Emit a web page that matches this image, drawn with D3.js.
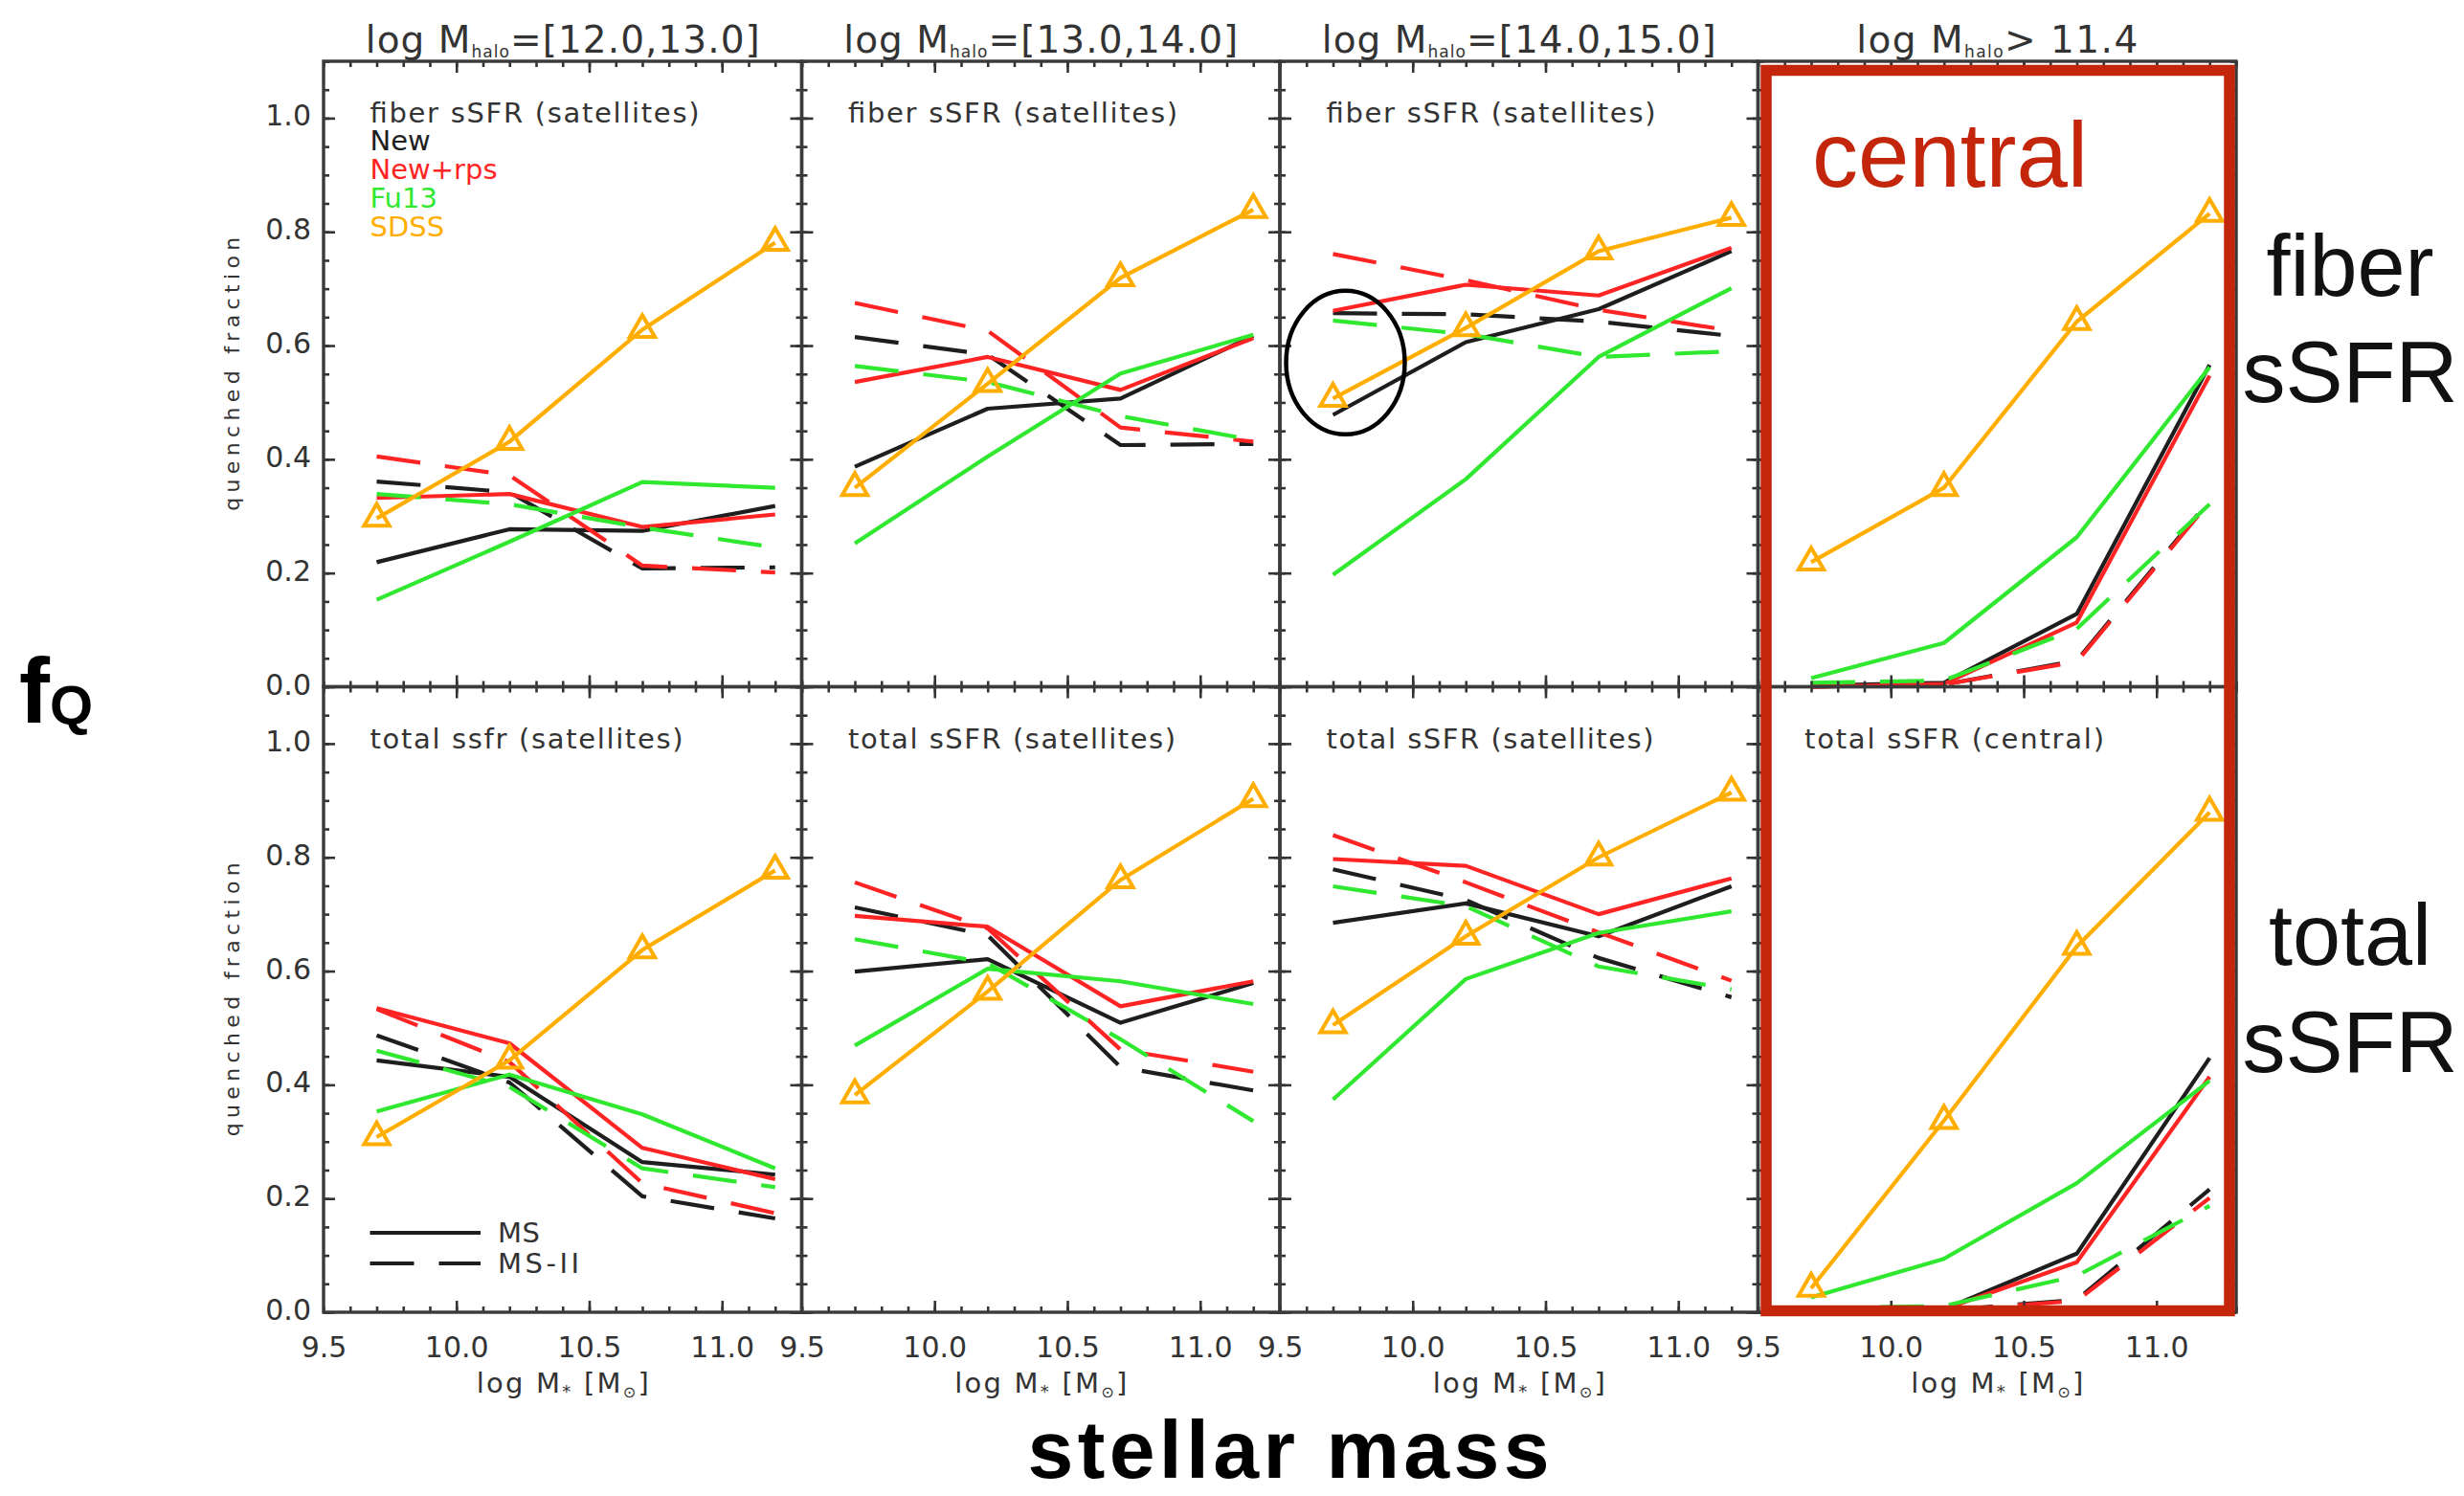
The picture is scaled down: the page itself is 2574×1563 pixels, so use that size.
<!DOCTYPE html>
<html>
<head>
<meta charset="utf-8">
<script src="https://cdn.jsdelivr.net/npm/d3@7"></script>
<style>
  html, body { margin: 0; padding: 0; background: #ffffff; }
  svg { display: block; }
</style>
</head>
<body>
<svg id="chart" width="2574" height="1563"></svg>
<script>
// ---- data -------------------------------------------------------------
// stellar-mass bin centres (log M*)
const massBins = [9.7, 10.2, 10.7, 11.2];
// labelled x ticks, y ticks
const xMajorTicks = [9.5, 10.0, 10.5, 11.0];
const yMajorTicks = [0.0, 0.2, 0.4, 0.6, 0.8, 1.0];

// column headers: halo-mass selection
const haloLabels = ["=[12.0,13.0]", "=[13.0,14.0]", "=[14.0,15.0]", "> 11.4"];
// in-panel notes, top row then bottom row
const panelNotes = [
  "fiber sSFR (satellites)", "fiber sSFR (satellites)", "fiber sSFR (satellites)", "",
  "total ssfr (satellites)", "total sSFR (satellites)", "total sSFR (satellites)", "total sSFR (central)"
];

// quenched fractions; one row per panel (top row first), one value per mass bin
const newMS = [
  [0.219, 0.277, 0.274, 0.318], [0.387, 0.489, 0.507, 0.617], [0.478, 0.606, 0.664, 0.766], [0.002, 0.007, 0.128, 0.566],
  [0.443, 0.414, 0.264, 0.242], [0.599, 0.621, 0.509, 0.579], [0.685, 0.719, 0.661, 0.749], [0.000, 0.005, 0.103, 0.447]
];
const newMSII = [
  [0.361, 0.342, 0.208, 0.210], [0.615, 0.584, 0.425, 0.427], [0.657, 0.655, 0.642, 0.617], [0.000, 0.004, 0.046, 0.328],
  [0.487, 0.404, 0.204, 0.165], [0.712, 0.663, 0.431, 0.390], [0.779, 0.725, 0.623, 0.554], [0.000, 0.003, 0.022, 0.216]
];
const rpsMS = [
  [0.332, 0.339, 0.281, 0.303], [0.536, 0.580, 0.522, 0.613], [0.661, 0.707, 0.688, 0.772], [0.000, 0.005, 0.113, 0.547],
  [0.535, 0.473, 0.289, 0.234], [0.697, 0.678, 0.538, 0.582], [0.797, 0.785, 0.700, 0.763], [0.000, 0.005, 0.088, 0.414]
];
const rpsMSII = [
  [0.405, 0.372, 0.213, 0.201], [0.675, 0.626, 0.456, 0.431], [0.761, 0.715, 0.663, 0.626], [0.000, 0.004, 0.044, 0.325],
  [0.533, 0.440, 0.227, 0.174], [0.756, 0.675, 0.462, 0.423], [0.839, 0.756, 0.668, 0.583], [0.000, 0.003, 0.020, 0.201]
];
const fu13MS = [
  [0.153, 0.255, 0.360, 0.350], [0.252, 0.405, 0.551, 0.619], [0.197, 0.365, 0.580, 0.701], [0.015, 0.077, 0.263, 0.562],
  [0.353, 0.418, 0.348, 0.253], [0.469, 0.604, 0.582, 0.542], [0.374, 0.586, 0.667, 0.705], [0.026, 0.094, 0.227, 0.407]
];
const fu13MSII = [
  [0.339, 0.321, 0.280, 0.245], [0.564, 0.536, 0.476, 0.434], [0.644, 0.620, 0.580, 0.590], [0.007, 0.011, 0.102, 0.321],
  [0.460, 0.396, 0.253, 0.220], [0.656, 0.614, 0.480, 0.336], [0.749, 0.714, 0.608, 0.568], [0.007, 0.011, 0.064, 0.187]
];
const sdss = [
  [0.296, 0.431, 0.628, 0.781], [0.350, 0.533, 0.719, 0.839], [0.507, 0.631, 0.766, 0.825], [0.219, 0.350, 0.642, 0.832],
  [0.308, 0.443, 0.637, 0.777], [0.382, 0.564, 0.760, 0.903], [0.505, 0.661, 0.800, 0.914], [0.042, 0.337, 0.643, 0.879]
];

// legend entries (model name / colour)
const modelNames = ["New", "New+rps", "Fu13", "SDSS"];
const modelColors = ["#1e1e1e", "#ff2424", "#2fe82f", "#ffae00"];
const simNames = ["MS", "MS-II"];

// ---- layout -----------------------------------------------------------
const svg = d3.select("#chart");
const IDL_FONT = "DejaVu Sans, sans-serif";
const INK = "#333333";
const colX0 = 338, colW = 499.5;
const rowY0 = [64, 717.5], rowH = 653.5;
const DASH = "46,26";

const xDomain = [9.5, 11.3];
const yDomain = [0, 1.1];

const series = [
  { vals: newMS,    color: modelColors[0], dash: null },
  { vals: newMSII,  color: modelColors[0], dash: DASH },
  { vals: rpsMS,    color: modelColors[1], dash: null },
  { vals: rpsMSII,  color: modelColors[1], dash: DASH },
  { vals: fu13MS,   color: modelColors[2], dash: null },
  { vals: fu13MSII, color: modelColors[2], dash: DASH }
];

const triangle = d3.symbol().type(d3.symbolTriangle).size(300);

for (let p = 0; p < 8; p++) {
  const col = p % 4, row = Math.floor(p / 4);
  const x = d3.scaleLinear().domain(xDomain).range([colX0 + col * colW, colX0 + (col + 1) * colW]);
  const y = d3.scaleLinear().domain(yDomain).range([rowY0[row] + rowH, rowY0[row]]);
  const g = svg.append("g").attr("class", "panel");

  const line = d3.line().x((d, i) => x(massBins[i])).y(d => y(d));

  // model curves
  series.forEach(s => {
    g.append("path")
      .attr("d", line(s.vals[p]))
      .attr("fill", "none")
      .attr("stroke", s.color)
      .attr("stroke-width", 4.2)
      .attr("stroke-linejoin", "round")
      .attr("stroke-dasharray", s.dash);
  });

  // SDSS observations: line with open triangles
  g.append("path")
    .attr("d", line(sdss[p]))
    .attr("fill", "none")
    .attr("stroke", modelColors[3])
    .attr("stroke-width", 4.2);
  g.selectAll(".tri")
    .data(sdss[p])
    .join("path")
    .attr("transform", (d, i) => `translate(${x(massBins[i])},${y(d)})`)
    .attr("d", triangle)
    .attr("fill", "none")
    .attr("stroke", modelColors[3])
    .attr("stroke-width", 4);

  // axes: inward ticks on all four sides
  const minorX = x.ticks(18), minorY = y.ticks(22);
  const majX = [10.0, 10.5, 11.0];
  const styleAxis = sel => {
    sel.select(".domain").remove();
    sel.selectAll("line").attr("stroke", INK).attr("stroke-width", 2.6);
    sel.attr("font-family", IDL_FONT).attr("font-size", 30).attr("color", INK);
  };
  const bottomY = rowY0[row] + rowH, topY = rowY0[row];
  const leftX = x.range()[0], rightX = x.range()[1];

  g.append("g").attr("transform", `translate(0,${bottomY})`)
    .call(d3.axisBottom(x).tickValues(minorX).tickSize(-6).tickFormat("")).call(styleAxis);
  g.append("g").attr("transform", `translate(0,${bottomY})`)
    .call(d3.axisBottom(x).tickValues(row === 1 ? xMajorTicks : majX).tickSize(-12).tickPadding(26)
      .tickFormat(row === 1 ? d3.format(".1f") : ""))
    .call(styleAxis)
    .call(a => a.selectAll("line").filter(d => d === 9.5).remove());
  g.append("g").attr("transform", `translate(0,${topY})`)
    .call(d3.axisTop(x).tickValues(minorX).tickSize(-6).tickFormat("")).call(styleAxis);
  g.append("g").attr("transform", `translate(0,${topY})`)
    .call(d3.axisTop(x).tickValues(majX).tickSize(-12).tickFormat("")).call(styleAxis);

  g.append("g").attr("transform", `translate(${leftX},0)`)
    .call(d3.axisLeft(y).tickValues(minorY).tickSize(-6).tickFormat("")).call(styleAxis);
  g.append("g").attr("transform", `translate(${leftX},0)`)
    .call(d3.axisLeft(y).tickValues(yMajorTicks).tickSize(-12).tickPadding(13)
      .tickFormat(col === 0 ? d3.format(".1f") : ""))
    .call(styleAxis)
    .call(a => a.selectAll("text").attr("dy", "0.25em"));
  g.append("g").attr("transform", `translate(${rightX},0)`)
    .call(d3.axisRight(y).tickValues(minorY).tickSize(-6).tickFormat("")).call(styleAxis);
  g.append("g").attr("transform", `translate(${rightX},0)`)
    .call(d3.axisRight(y).tickValues(yMajorTicks).tickSize(-12).tickFormat("")).call(styleAxis);

  // frame
  g.append("rect")
    .attr("x", leftX).attr("y", topY)
    .attr("width", rightX - leftX).attr("height", bottomY - topY)
    .attr("fill", "none").attr("stroke", "#3a3a3a").attr("stroke-width", 3.4);

  // panel note
  if (panelNotes[p]) {
    const noteLen = { "fiber sSFR (satellites)": 344, "total ssfr (satellites)": 327,
                      "total sSFR (satellites)": 342, "total sSFR (central)": 313 }[panelNotes[p]];
    g.append("text")
      .attr("x", leftX + 48.5).attr("y", topY + 64)
      .attr("font-family", IDL_FONT).attr("font-size", 29).attr("fill", INK)
      .attr("textLength", noteLen).attr("lengthAdjust", "spacing")
      .text(panelNotes[p]);
  }

  // column header
  if (row === 0) {
    const t = g.append("text")
      .attr("x", (leftX + rightX) / 2).attr("y", 55)
      .attr("text-anchor", "middle")
      .attr("font-family", IDL_FONT).attr("font-size", 39).attr("fill", INK)
      .attr("textLength", col === 3 ? 294 : 412).attr("lengthAdjust", "spacing");
    t.append("tspan").text("log M");
    t.append("tspan").attr("font-size", 17).attr("dy", 5).text("halo");
    t.append("tspan").attr("dy", -5).text(haloLabels[col]);
  }

  // x-axis title
  if (row === 1) {
    const t = g.append("text")
      .attr("x", (leftX + rightX) / 2).attr("y", 1455)
      .attr("text-anchor", "middle")
      .attr("font-family", IDL_FONT).attr("font-size", 29).attr("fill", INK)
      .attr("textLength", 180).attr("lengthAdjust", "spacing");
    t.append("tspan").text("log M");
    t.append("tspan").attr("font-size", 18).attr("dy", 5).text("*");
    t.append("tspan").attr("dy", -5).text(" [M");
    t.append("tspan").attr("font-size", 16).attr("dy", 5).text("\u2299");
    t.append("tspan").attr("dy", -5).text("]");
  }

  // y-axis title
  if (col === 0) {
    g.append("text")
      .attr("transform", `translate(250,${(topY + bottomY) / 2}) rotate(-90)`)
      .attr("text-anchor", "middle")
      .attr("font-family", IDL_FONT).attr("font-size", 22).attr("fill", INK)
      .attr("textLength", 286).attr("lengthAdjust", "spacing")
      .text("quenched fraction");
  }

  // model legend (top-left panel)
  if (p === 0) {
    modelNames.forEach((name, i) => {
      g.append("text")
        .attr("x", leftX + 48.5).attr("y", topY + 93 + i * 30)
        .attr("font-family", IDL_FONT).attr("font-size", 29)
        .attr("fill", modelColors[i])
        .text(name);
    });
  }

  // simulation legend (bottom-left panel)
  if (p === 4) {
    simNames.forEach((name, i) => {
      const ly = 1288 + i * 32;
      g.append("line")
        .attr("x1", leftX + 48.5).attr("x2", leftX + 164)
        .attr("y1", ly).attr("y2", ly)
        .attr("stroke", modelColors[0]).attr("stroke-width", 4.2)
        .attr("stroke-dasharray", i === 1 ? DASH : null);
      g.append("text")
        .attr("x", leftX + 182).attr("y", ly + 10)
        .attr("font-family", IDL_FONT).attr("font-size", 29).attr("fill", INK)
        .attr("textLength", i === 1 ? 85 : 44).attr("lengthAdjust", "spacing")
        .text(name);
    });
  }
}

// ---- annotations ------------------------------------------------------
const ACCENT = "#c4260b";
const xc3 = d3.scaleLinear().domain(xDomain).range([colX0 + 3 * colW, colX0 + 4 * colW]);
const xc2 = d3.scaleLinear().domain(xDomain).range([colX0 + 2 * colW, colX0 + 3 * colW]);
const yTop = d3.scaleLinear().domain(yDomain).range([rowY0[0] + rowH, rowY0[0]]);

// highlight around the central-galaxy column
svg.append("rect")
  .attr("x", xc3(9.5) + 8.5).attr("y", 73.5)
  .attr("width", xc3(11.3) - 7 - (xc3(9.5) + 8.5)).attr("height", 1369.5 - 73.5)
  .attr("fill", "none").attr("stroke", ACCENT).attr("stroke-width", 11.5);

svg.append("text")
  .attr("x", 1893).attr("y", 195)
  .attr("font-family", "Liberation Sans, Arial, sans-serif").attr("font-size", 96)
  .attr("fill", ACCENT)
  .text("central");

// circled low-mass SDSS point, 14 < log Mhalo < 15
svg.append("ellipse")
  .attr("cx", xc2(9.7) + 13).attr("cy", yTop(0.57))
  .attr("rx", 62).attr("ry", 75)
  .attr("fill", "none").attr("stroke", "#000").attr("stroke-width", 4.5);

// row labels on the right
const BIG_FONT = "Liberation Sans, Arial, sans-serif";
[["fiber", 309], ["sSFR", 420], ["total", 1008], ["sSFR", 1120]].forEach(([txt, yy]) => {
  svg.append("text")
    .attr("x", 2455).attr("y", yy).attr("text-anchor", "middle")
    .attr("font-family", BIG_FONT).attr("font-size", 90).attr("fill", "#111")
    .text(txt);
});

// overall axis labels
svg.append("text")
  .attr("x", 1346).attr("y", 1544).attr("text-anchor", "middle")
  .attr("font-family", BIG_FONT).attr("font-weight", "bold").attr("font-size", 86)
  .attr("textLength", 545).attr("lengthAdjust", "spacing")
  .attr("fill", "#000")
  .text("stellar mass");

const fq = svg.append("text")
  .attr("x", 20).attr("y", 755)
  .attr("font-family", BIG_FONT).attr("font-weight", "bold").attr("font-size", 96)
  .attr("fill", "#000");
fq.append("tspan").text("f");
fq.append("tspan").attr("font-size", 58).attr("dy", 2).text("Q");
</script>
</body>
</html>
